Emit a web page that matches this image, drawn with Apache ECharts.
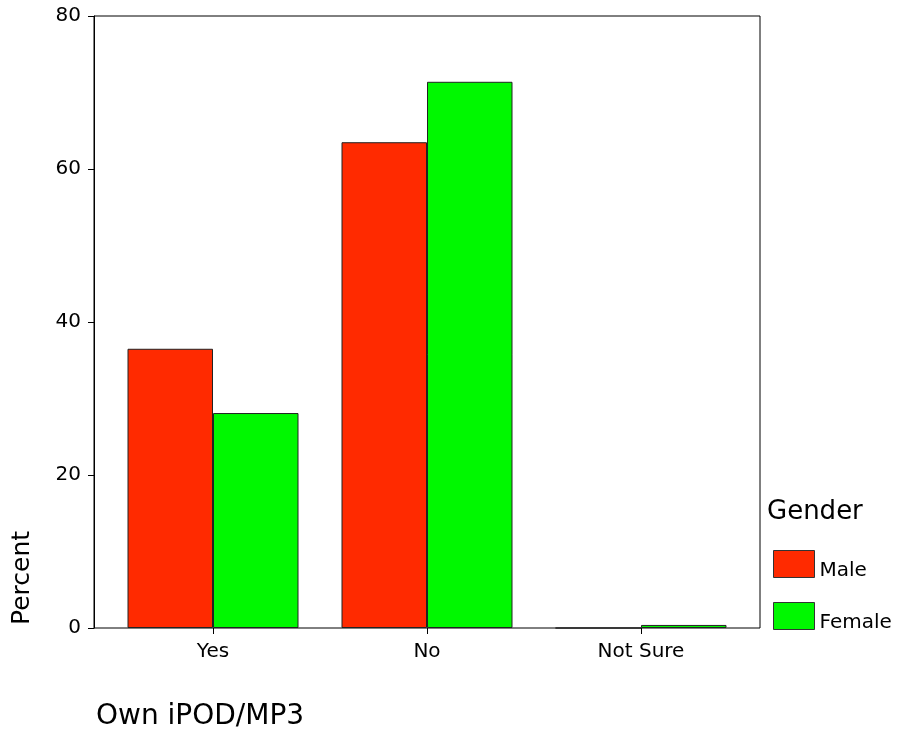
<!DOCTYPE html>
<html>
<head>
<meta charset="utf-8">
<script src="https://cdn.jsdelivr.net/npm/echarts@6/dist/echarts.min.js"></script>
<style>
  html, body { margin: 0; padding: 0; background: #fff; }
  #chart { width: 901px; height: 730px; }
</style>
</head>
<body>
<div id="chart"></div>
<script>
// Own iPOD/MP3 by gender, percent of respondents
const categories = ['Yes', 'No', 'Not Sure'];
const seriesNames = ['Male', 'Female'];
const maleValues = [36.5, 63.5, 0];
const femaleValues = [28.1, 71.4, 0.4];
const yTicks = [0, 20, 40, 60, 80];

const FONT = 'DejaVu Sans';
const chart = echarts.init(document.getElementById('chart'), null, { renderer: 'canvas' });

chart.setOption({
  animation: false,
  backgroundColor: '#fff',
  textStyle: { fontFamily: FONT, color: '#000' },
  title: [
    {
      text: 'Own iPOD/MP3',
      left: 96, top: 703, padding: 0,
      textStyle: { fontFamily: FONT, fontSize: 28, fontWeight: 'normal', color: '#000' }
    },
    {
      text: 'Gender',
      left: 767, top: 499, padding: 0,
      textStyle: { fontFamily: FONT, fontSize: 26, fontWeight: 'normal', color: '#000' }
    }
  ],
  graphic: [
    {
      type: 'text',
      x: 22, y: 578, rotation: Math.PI / 2,
      style: {
        text: 'Percent', fontFamily: FONT, fontSize: 25, fill: '#000',
        align: 'center', verticalAlign: 'middle'
      }
    }
  ],
  legend: {
    orient: 'vertical',
    left: 773, top: 550, padding: 0,
    itemWidth: 41, itemHeight: 27, itemGap: 21,
    icon: 'rect',
    data: seriesNames,
    itemStyle: { borderWidth: 1, borderColor: '#333' },
    formatter: name => '{t|' + name + '}',
    textStyle: {
      fontFamily: FONT, fontSize: 20, color: '#000',
      rich: { t: { fontFamily: FONT, fontSize: 20, color: '#000', padding: [14, 0, 0, 0] } }
    }
  },
  grid: [
    // frame + value axis
    { left: 94, right: 141, top: 16, bottom: 102, show: true, borderColor: '#000', borderWidth: 1 },
    // bars, categories centred inside the frame
    { left: 106, right: 153, top: 16, bottom: 102 }
  ],
  xAxis: [
    { gridIndex: 0, type: 'category', data: categories, show: false },
    {
      gridIndex: 1, type: 'category', data: categories,
      axisLine: { show: false },
      axisTick: { show: true, alignWithLabel: true, length: 6, lineStyle: { color: '#000' } },
      axisLabel: { fontFamily: FONT, fontSize: 20, color: '#000', margin: 14 },
      splitLine: { show: false }
    }
  ],
  yAxis: [
    {
      gridIndex: 0, type: 'value', min: 0, max: 80, interval: 20,
      axisLine: { show: true, lineStyle: { color: '#000' } },
      axisTick: { show: true, length: 6, lineStyle: { color: '#000' } },
      axisLabel: {
        fontFamily: FONT, fontSize: 20, color: '#000', margin: 13,
        formatter: v => (yTicks.includes(v) ? String(v) : '')
      },
      splitLine: { show: false }
    },
    { gridIndex: 1, type: 'value', min: 0, max: 80, interval: 20, show: false }
  ],
  series: [
    {
      name: seriesNames[0], type: 'bar', xAxisIndex: 1, yAxisIndex: 1,
      data: maleValues,
      barWidth: 85.5, barGap: '0%',
      itemStyle: { color: '#ff2a00', borderColor: '#222', borderWidth: 1 }
    },
    {
      name: seriesNames[1], type: 'bar', xAxisIndex: 1, yAxisIndex: 1,
      data: femaleValues,
      barWidth: 85.5, barGap: '0%',
      itemStyle: { color: '#00f800', borderColor: '#222', borderWidth: 1 }
    }
  ]
});
</script>
</body>
</html>
